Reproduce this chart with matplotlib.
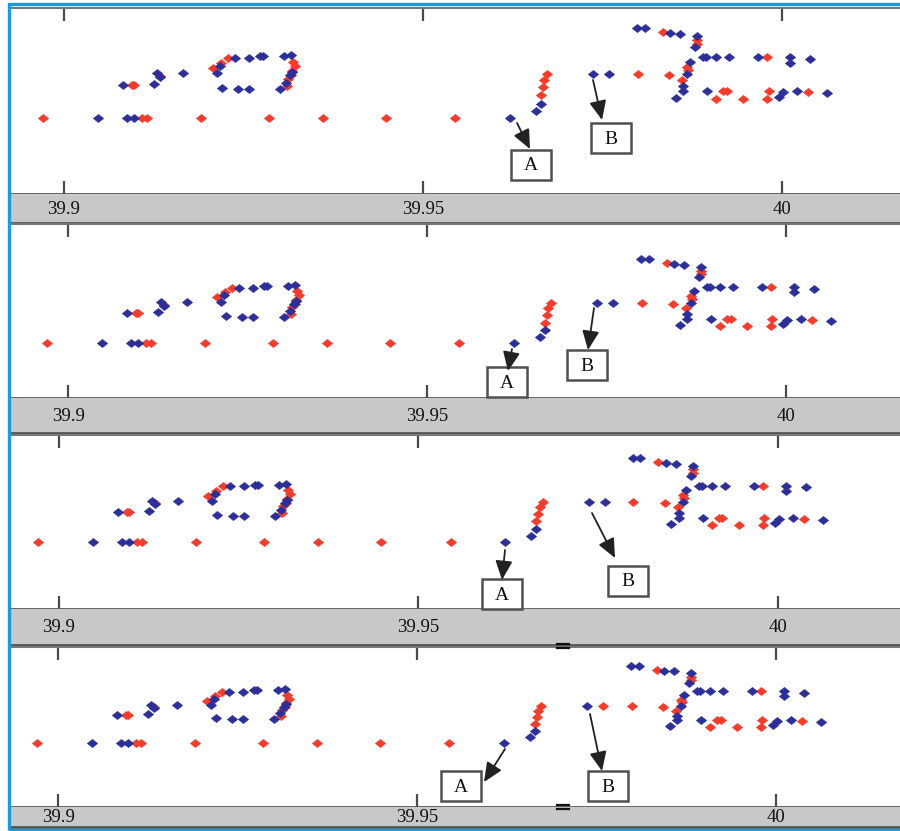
import matplotlib
matplotlib.use("Agg")
import matplotlib.pyplot as plt
from matplotlib.lines import Line2D
from matplotlib.patches import Rectangle, FancyArrowPatch

plt.rcParams["font.family"] = ["Liberation Serif", "DejaVu Serif"]

# ---- data: time (s) and level ----
red_t = [39.8971, 39.9109, 39.9116, 39.9191, 39.9286, 39.9361, 39.9448, 39.9545,
         39.9095, 39.9097, 39.9134,
         39.9208, 39.9219, 39.9228, 39.9319, 39.9322, 39.9318, 39.9316, 39.9312, 39.9311,
         39.9664, 39.9667, 39.9669, 39.9673,
         39.9799, 39.9843,
         39.9834, 39.9882, 39.9882,
         39.9868, 39.9869, 39.9861,
         39.9979, 39.9918, 39.9923, 39.9908, 39.9946, 39.9979, 39.9981, 40.0036]
red_y = [0, 0, 0, 0, 0, 0, 0, 0,
         3.2, 3.2, 4.1,
         4.9, 5.4, 5.9, 5.5, 5.1, 4.6, 4.2, 3.8, 3.1,
         2.2, 3.0, 3.7, 4.3,
         4.3, 4.2,
         8.5, 7.7, 7.3,
         5.0, 4.7, 3.7,
         6.0, 2.6, 2.6, 1.8, 1.8, 1.8, 2.6, 2.5]

blue_t = [39.9047, 39.9088, 39.9097,
          39.9082, 39.9125, 39.9130, 39.9134, 39.9166,
          39.9217, 39.9213, 39.9238, 39.9258, 39.9273, 39.9277, 39.9306, 39.9316,
          39.9318, 39.9315, 39.9309, 39.9301, 39.9220, 39.9242, 39.9258,
          39.9621, 39.9657, 39.9664,
          39.9798, 39.9809, 39.9844, 39.9858, 39.9882, 39.9879,
          39.9872, 39.9868, 39.9862, 39.9862, 39.9852,
          39.9890, 39.9894, 39.9908, 39.9926, 39.9967, 40.0011, 40.0011, 40.0039,
          39.9896, 39.9996, 40.0001, 40.0021, 40.0063]
blue_y = [0, 0, 0,
          3.2, 3.3, 4.4, 4.0, 4.4,
          5.1, 4.4, 5.9, 5.9, 6.1, 6.1, 6.1, 6.2,
          4.5, 4.2, 3.4, 2.8, 2.9, 2.8, 2.8,
          0, 0.7, 1.4,
          8.9, 8.9, 8.4, 8.3, 8.1, 7.0,
          5.5, 4.3, 3.1, 2.6, 1.9,
          6.0, 6.0, 6.0, 6.0, 6.0, 6.0, 5.4, 5.8,
          2.6, 2.0, 2.5, 2.6, 2.4]

# the pair of points next to marker B differs between panels
b_row_level = 4.3
b_row_blue = [[39.9737, 39.9759], [39.9737, 39.9759], [39.9737, 39.9759], [39.9737]]
b_row_red = [[], [], [], [39.9759]]

tick_values = [39.9, 39.95, 40.0]
tick_labels = ["39.9", "39.95", "40"]

# ---- layout (figure pixels) ----
W, H = 900, 831
RED = "#f23d2c"
BLUE = "#2d2f98"
DARK = "#555555"


def rect(x0, y0, x1, y1):
    return [x0 / W, 1 - y1 / H, (x1 - x0) / W, (y1 - y0) / H]


def fpos(x, y):
    return (x / W, 1 - y / H)


panels = [
    dict(white=(10, 8, 900, 194), strip=(10, 194, 900, 223),
         xlim=(39.8925, 40.0164), ylim=(-7.6, 10.9),
         notes=[("A", (531, 165), (517, 123), (530, 149)),
                ("B", (611, 138), (593, 80), (602, 120))]),
    dict(white=(10, 224, 900, 398), strip=(10, 398, 900, 433),
         xlim=(39.8919, 40.0159), ylim=(-5.78, 12.63)),
    dict(white=(10, 435, 900, 609), strip=(10, 609, 900, 645),
         xlim=(39.8932, 40.0170), ylim=(-7.07, 11.35)),
    dict(white=(10, 647, 900, 807), strip=(10, 807, 900, 827),
         xlim=(39.8933, 40.0173), ylim=(-7.51, 11.15)),
]
panels[1]["notes"] = [("A", (507, 382), (512, 349), (508, 371)),
                      ("B", (587, 365), (594, 308), (588, 350))]
panels[2]["notes"] = [("A", (502, 594), (505, 550), (502, 580)),
                      ("B", (628, 581), (592, 513), (615, 558))]
panels[3]["notes"] = [("A", (461, 786), (505, 749), (484, 782)),
                      ("B", (608, 786), (590, 714), (602, 771))]

diamond = [(-1, 0), (0, 0.8), (1, 0), (0, -0.8), (-1, 0)]
MS = 7.4

fig = plt.figure(figsize=(W / 100, H / 100), dpi=100)
fig.patch.set_facecolor("white")

for i, p in enumerate(panels):
    ax = fig.add_axes(rect(*p["white"]))
    strip = fig.add_axes(rect(*p["strip"]), sharex=ax)

    ax.plot(red_t, red_y, ls="none", marker=diamond, ms=MS, mfc=RED, mec=RED, mew=0.4)
    ax.plot(b_row_red[i], [b_row_level] * len(b_row_red[i]), ls="none", marker=diamond,
            ms=MS, mfc=RED, mec=RED, mew=0.4)
    ax.plot(blue_t, blue_y, ls="none", marker=diamond, ms=MS, mfc=BLUE, mec=BLUE, mew=0.4)
    ax.plot(b_row_blue[i], [b_row_level] * len(b_row_blue[i]), ls="none", marker=diamond,
            ms=MS, mfc=BLUE, mec=BLUE, mew=0.4)

    ax.set_xlim(*p["xlim"])
    ax.set_ylim(*p["ylim"])
    ax.set_xticks(tick_values)
    ax.set_yticks([])
    ax.tick_params(axis="x", direction="in", top=True, bottom=True, length=9.5,
                   width=1.6, color="#4a4a4a", labelbottom=False, labeltop=False)
    for side in ("left", "right"):
        ax.spines[side].set_visible(False)
    ax.spines["top"].set_color("#777777")
    ax.spines["top"].set_linewidth(1.5)
    ax.spines["bottom"].set_color(DARK)
    ax.spines["bottom"].set_linewidth(2.0)

    strip.set_facecolor("#c8c8c8")
    strip.set_yticks([])
    strip.tick_params(axis="x", length=0, labelbottom=False)
    for side in ("left", "right", "top"):
        strip.spines[side].set_visible(False)
    strip.spines["bottom"].set_color(DARK)
    strip.spines["bottom"].set_linewidth(2.0)
    for v, lab in zip(tick_values, tick_labels):
        strip.text(v, 0.48, lab, transform=strip.get_xaxis_transform(),
                   ha="center", va="center", fontsize=13.5, color="#111111")

    for label, centre, tail, head in p["notes"]:
        cx, cy = centre
        fig.add_artist(Rectangle(fpos(cx - 20, cy + 15), 40 / W, 30 / H,
                                 transform=fig.transFigure, facecolor="white",
                                 edgecolor="#505050", lw=1.8, zorder=5))
        fig.text(*fpos(cx, cy + 1), label, ha="center", va="center",
                 fontsize=14, color="#111111", zorder=6)
        fig.add_artist(FancyArrowPatch(fpos(*tail), fpos(*head), transform=fig.transFigure,
                                       arrowstyle="-|>,head_length=0.9,head_width=0.4",
                                       mutation_scale=13, color="#222222", lw=1.3,
                                       shrinkA=0, shrinkB=0, zorder=6))

# small splitter handles
for y in (646, 807):
    for dy in (-2, 2):
        fig.add_artist(Line2D([557 / W, 569 / W], [1 - (y + dy) / H] * 2,
                              transform=fig.transFigure, color="#111111", lw=1.6))

# outer blue frame
fig.add_artist(Rectangle(fpos(8.5, 829.5), 900 / W, 825.5 / H, transform=fig.transFigure,
                         fill=False, edgecolor="#1f9ad9", lw=2.4, zorder=10))

fig.savefig("out.png", dpi=100)
